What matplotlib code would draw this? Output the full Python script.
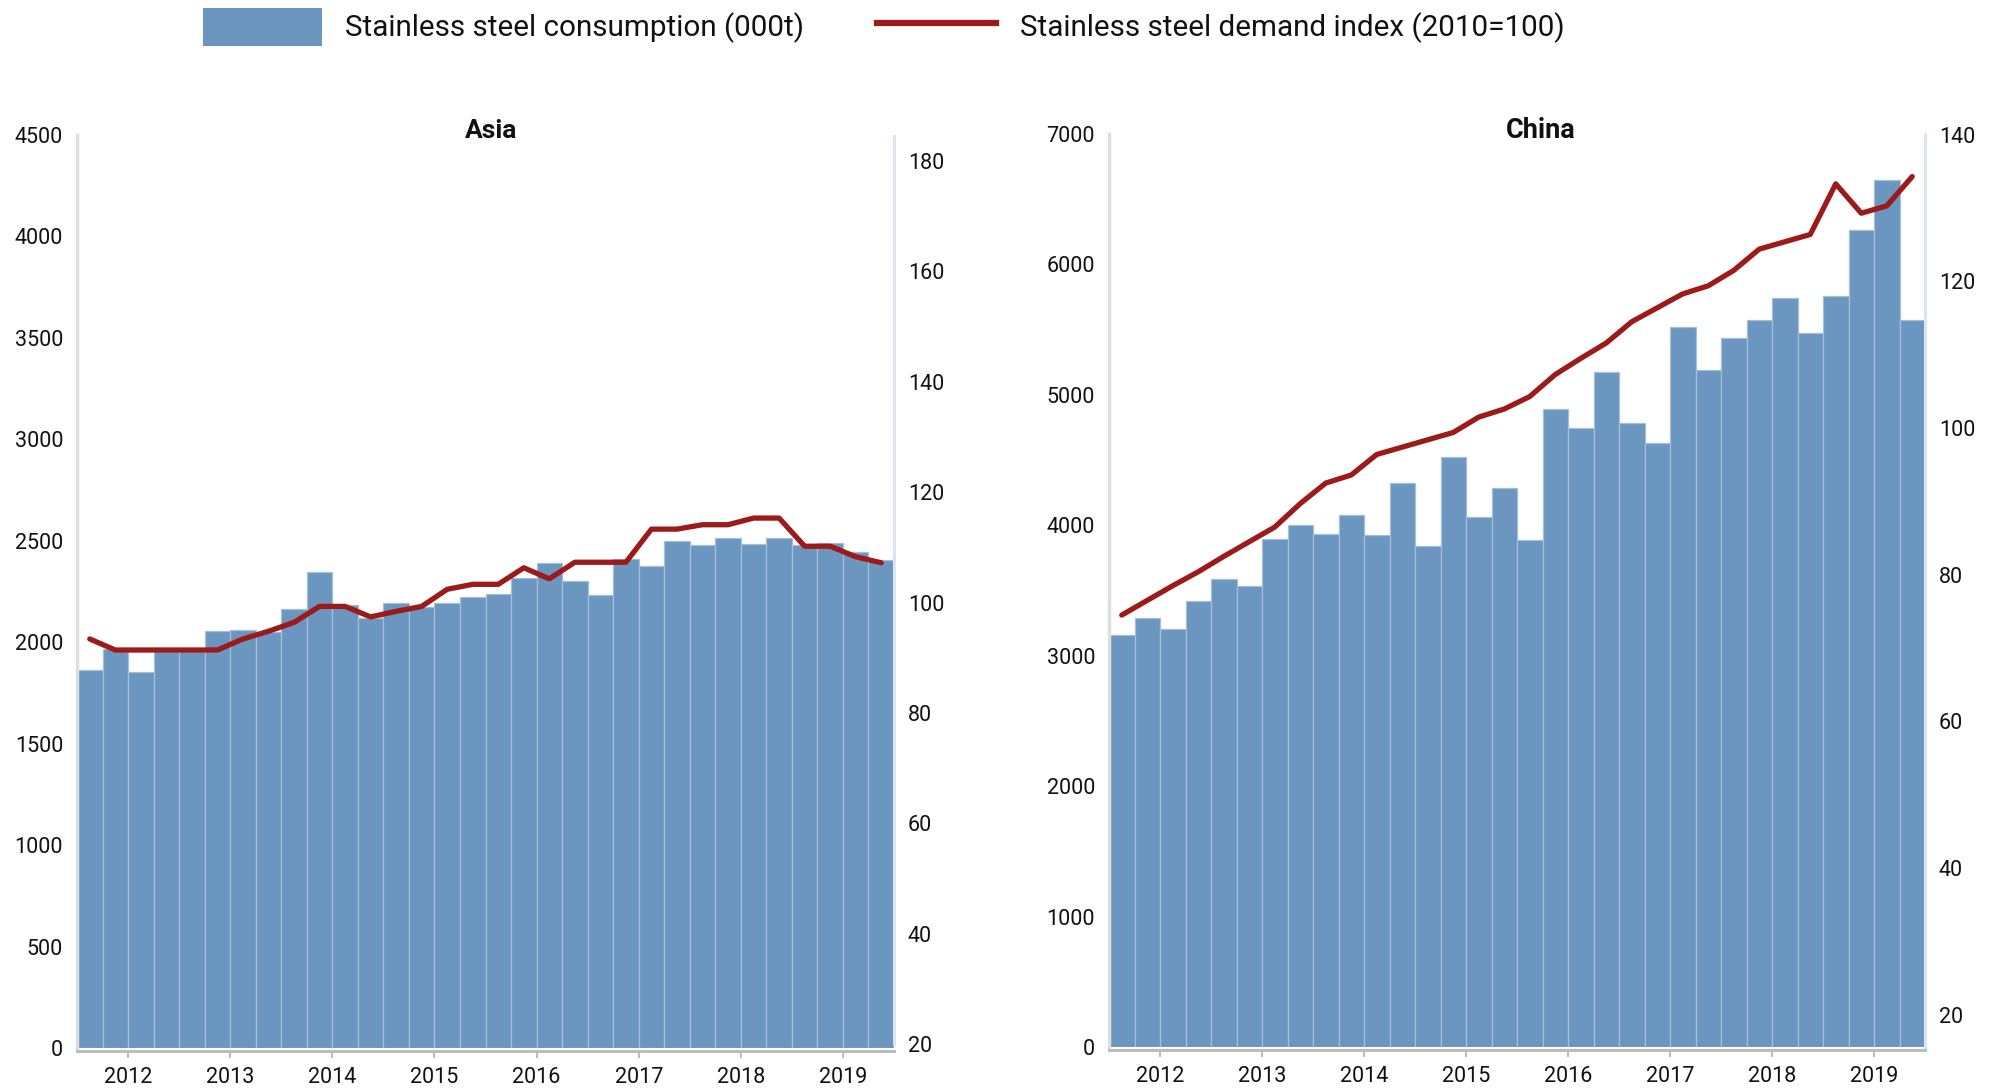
import matplotlib
matplotlib.use('Agg')
import matplotlib.pyplot as plt
from matplotlib.patches import Rectangle
from matplotlib.lines import Line2D

plt.rcParams['font.family'] = ['Roboto', 'DejaVu Sans']

# ---------------- data ----------------
quarters = ['2011Q3', '2011Q4',
            '2012Q1', '2012Q2', '2012Q3', '2012Q4',
            '2013Q1', '2013Q2', '2013Q3', '2013Q4',
            '2014Q1', '2014Q2', '2014Q3', '2014Q4',
            '2015Q1', '2015Q2', '2015Q3', '2015Q4',
            '2016Q1', '2016Q2', '2016Q3', '2016Q4',
            '2017Q1', '2017Q2', '2017Q3', '2017Q4',
            '2018Q1', '2018Q2', '2018Q3', '2018Q4',
            '2019Q1', '2019Q2']

asia_consumption = [1862, 1966, 1851, 1955, 1955, 2054, 2060, 2050,
                    2162, 2347, 2184, 2120, 2192, 2172, 2192, 2224,
                    2237, 2318, 2390, 2300, 2234, 2409, 2377, 2499,
                    2479, 2513, 2485, 2515, 2479, 2488, 2445, 2403]
asia_index = [93.4, 91.4, 91.4, 91.4, 91.4, 91.4, 93.4, 94.8,
              96.4, 99.3, 99.3, 97.4, 98.4, 99.3, 102.4, 103.3,
              103.3, 106.3, 104.3, 107.3, 107.3, 107.3, 113.3, 113.3,
              114.1, 114.1, 115.3, 115.3, 110.2, 110.2, 108.3, 107.2]

china_consumption = [3156, 3291, 3205, 3417, 3592, 3534, 3896, 4003,
                     3931, 4080, 3926, 4327, 3843, 4526, 4066, 4283,
                     3887, 4894, 4744, 5175, 4787, 4632, 5523, 5194,
                     5436, 5572, 5741, 5474, 5760, 6264, 6646, 5572]
china_index = [74.5, 76.5, 78.5, 80.4, 82.5, 84.5, 86.5, 89.7,
               92.5, 93.6, 96.4, 97.4, 98.4, 99.4, 101.5, 102.6,
               104.3, 107.3, 109.5, 111.6, 114.5, 116.4, 118.3, 119.4,
               121.5, 124.4, 125.4, 126.4, 133.3, 129.3, 130.3, 134.3]

year_ticks = [2012, 2013, 2014, 2015, 2016, 2017, 2018, 2019]
asia_left_ticks = [0, 500, 1000, 1500, 2000, 2500, 3000, 3500, 4000, 4500]
asia_right_ticks = [20, 40, 60, 80, 100, 120, 140, 160, 180]
china_left_ticks = [0, 1000, 2000, 3000, 4000, 5000, 6000, 7000]
china_right_ticks = [20, 40, 60, 80, 100, 120, 140]

legend_bar_label = 'Stainless steel consumption (000t)'
legend_line_label = 'Stainless steel demand index (2010=100)'

# ---------------- style ----------------
BAR = '#6a96c0'
BAR_EDGE = '#a6bfd9'
LINE = '#9c1a1a'
W, H = 1995, 1091
TICK_FS = 15.5

x = [int(q[:4]) + (int(q[-1]) - 1) * 0.25 + 0.125 for q in quarters]

fig = plt.figure(figsize=(W / 100, H / 100), dpi=100)


def fx(px):
    return px / W


def fy(py):
    return 1 - py / H


def panel(left_px, right_px, top_px, bottom_px, cons, idx, lticks, rticks,
          lylim, rylim, rbounds):
    ax = fig.add_axes([fx(left_px), fy(bottom_px), fx(right_px - left_px),
                       (bottom_px - top_px) / H])
    ax.bar(x, cons, width=0.25, color=BAR, edgecolor=BAR_EDGE, linewidth=0.9,
           align='center', zorder=2)
    ax.set_xlim(2011.5, 2019.5)
    ax.set_ylim(*lylim)
    ax.set_yticks(lticks)
    ax.set_yticklabels([str(t) for t in lticks])
    ax.set_xticks(year_ticks)
    ax.set_xticklabels([str(t) for t in year_ticks])
    ax.tick_params(axis='y', length=0, pad=10, labelsize=TICK_FS, colors='#111111')
    ax.tick_params(axis='x', length=5, width=1.5, color='#bdbdbd', pad=7,
                   labelsize=TICK_FS, labelcolor='#111111')
    for s in ['top', 'right']:
        ax.spines[s].set_visible(False)
    ax.spines['left'].set_color('#dedede')
    ax.spines['left'].set_linewidth(2.5)
    ax.spines['bottom'].set_color('#bdbdbd')
    ax.spines['bottom'].set_linewidth(2.2)
    ax.spines['bottom'].set_position(('outward', 2))
    ax.patch.set_alpha(0)

    ax2 = ax.twinx()
    ax2.plot(x, idx, color=LINE, linewidth=3.8, solid_capstyle='round',
             solid_joinstyle='round', zorder=3)
    ax2.set_ylim(*rylim)
    ax2.set_yticks(rticks)
    ax2.set_yticklabels([str(t) for t in rticks])
    ax2.tick_params(axis='y', length=0, pad=10, labelsize=TICK_FS, colors='#111111')
    for s in ['top', 'left', 'bottom']:
        ax2.spines[s].set_visible(False)
    ax2.spines['right'].set_color('#dbe5f0')
    ax2.spines['right'].set_linewidth(2.2)
    ax2.spines['right'].set_bounds(*rbounds)
    return ax, ax2


panel(77, 894, 135, 1048, asia_consumption, asia_index,
      asia_left_ticks, asia_right_ticks, (0, 4500), (19.3, 184.7), (20, 184.5))
panel(1109, 1925, 134, 1047, china_consumption, china_index,
      china_left_ticks, china_right_ticks, (0, 7000), (15.6, 140.1), (15.6, 140.1))

fig.text(fx(491), fy(131), 'Asia', ha='center', va='center', fontsize=19,
         fontweight='bold', color='#111111')
fig.text(fx(1541), fy(131), 'China', ha='center', va='center', fontsize=19.5,
         fontweight='bold', color='#111111')

# legend
fig.patches.append(Rectangle((fx(203), fy(46)), fx(322 - 203), (46 - 8) / H,
                             transform=fig.transFigure, facecolor=BAR,
                             edgecolor='none'))
fig.lines.append(Line2D([fx(877), fx(996)], [fy(23), fy(23)],
                        transform=fig.transFigure, color=LINE, linewidth=4.5))
fig.text(fx(345), fy(28), legend_bar_label, ha='left', va='center',
         fontsize=21.3, color='#111111')
fig.text(fx(1020), fy(28), legend_line_label, ha='left', va='center',
         fontsize=21.3, color='#111111')

fig.savefig('out.png', dpi=100)
